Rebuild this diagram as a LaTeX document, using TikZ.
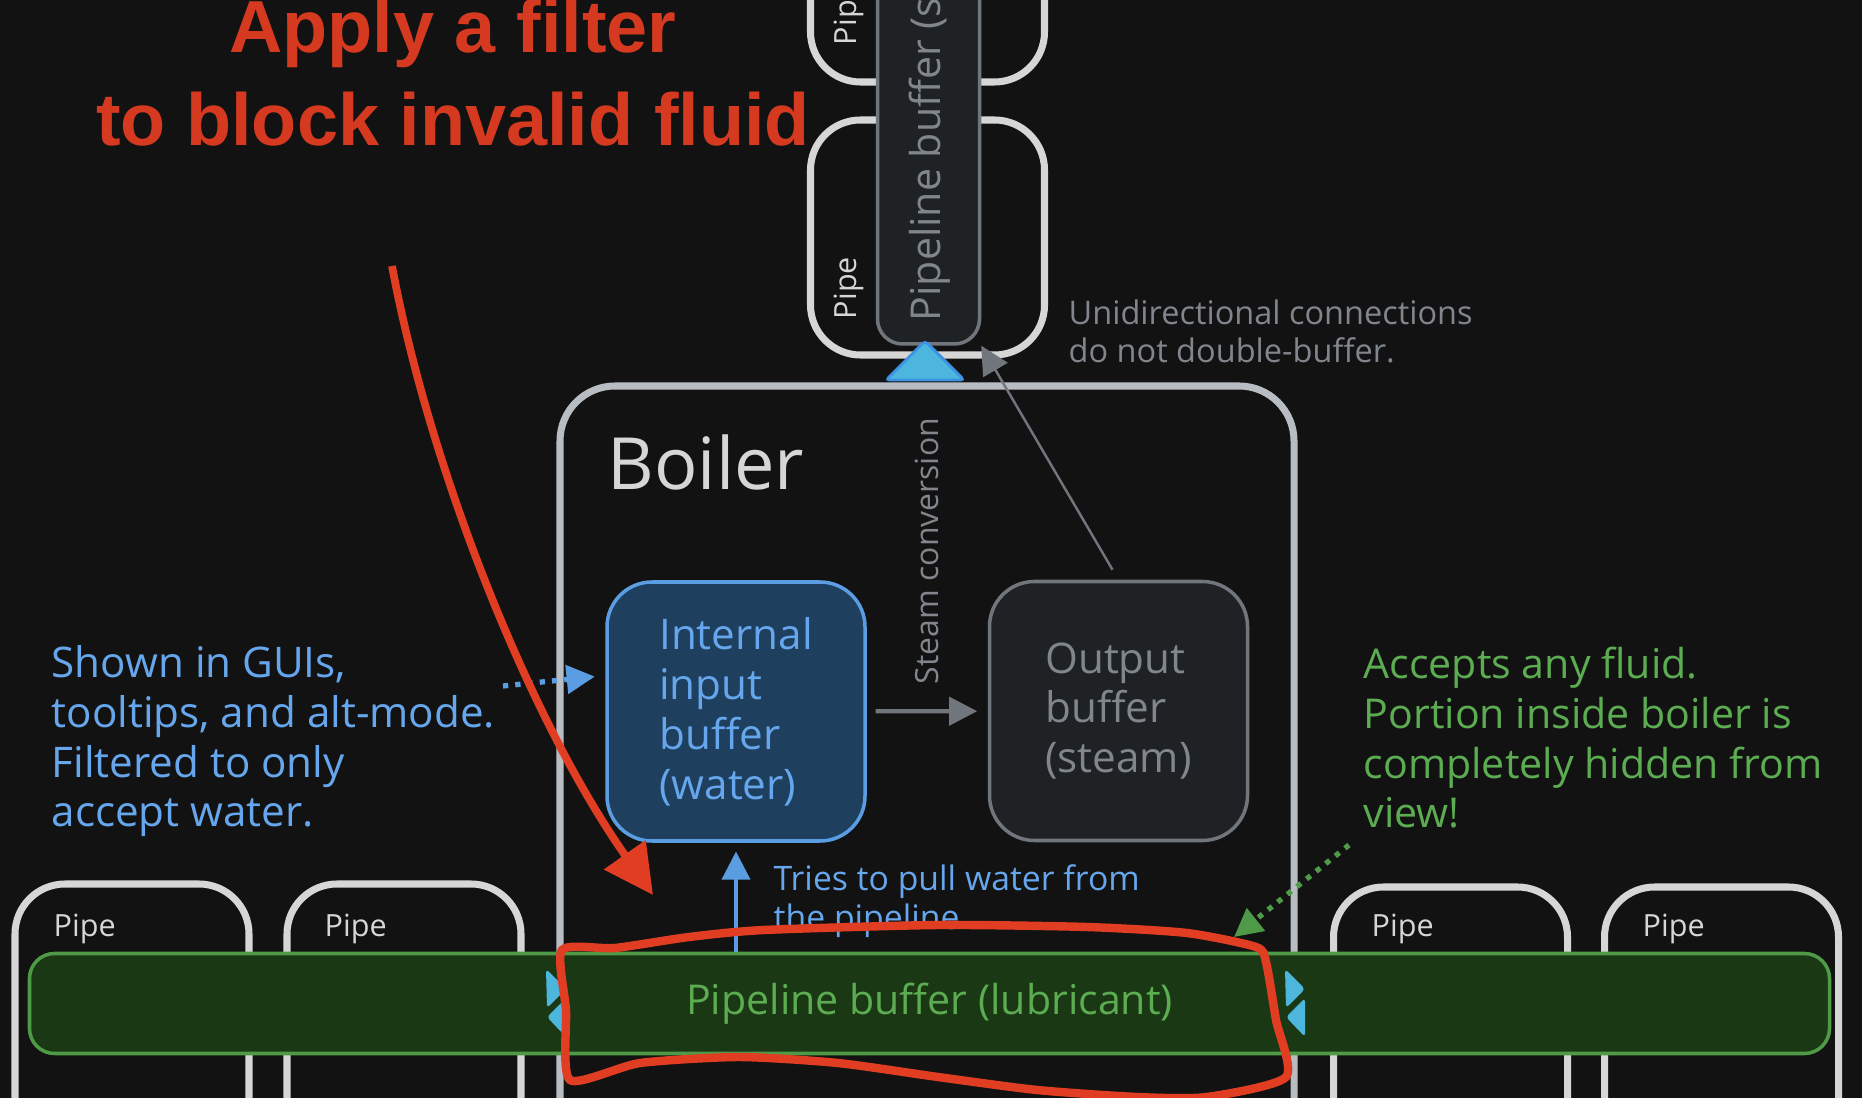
\documentclass[tikz,border=0pt]{standalone}
\usepackage{fontspec}
\setmainfont{Open Sans}
\newfontfamily\titlefont{Liberation Sans}
\usetikzlibrary{arrows.meta,positioning}

\definecolor{bg}{HTML}{121212}
\definecolor{pipegrey}{HTML}{D6D6D6}
\definecolor{wallgrey}{HTML}{B8BDC4}
\definecolor{lube}{HTML}{1B3815}
\definecolor{lubeline}{HTML}{4E9A47}
\definecolor{lubetext}{HTML}{5CAC52}
\definecolor{water}{HTML}{1F3F5E}
\definecolor{waterline}{HTML}{5A9DE2}
\definecolor{watertext}{HTML}{66A6EC}
\definecolor{steam}{HTML}{1F2225}
\definecolor{steamline}{HTML}{70767C}
\definecolor{steamtext}{HTML}{80868C}
\definecolor{markred}{HTML}{E03D22}
\definecolor{link}{HTML}{4DB6DC}

\newcommand\notefont{\fontsize{12}{14.2}\selectfont}
\newcommand\smallnotefont{\fontsize{9.6}{11.2}\selectfont}
\newcommand\pipefont{\fontsize{8.7}{10}\selectfont}
\newcommand\busfont{\fontsize{11.7}{14}\selectfont}

\begin{document}
\begin{tikzpicture}[>={Triangle[length=8pt,width=8pt]},
  pipe/.style={draw=pipegrey,line width=2pt,rounded corners=0.5cm,minimum width=2.34cm,inner sep=0pt},
  pipelbl/.style={text=pipegrey,font=\pipefont,inner sep=0pt},
  buf/.style={line width=1pt,rounded corners=0.45cm,minimum width=2.58cm,minimum height=2.59cm,align=left,font=\notefont},
  note/.style={align=left,font=\notefont,inner sep=0pt,anchor=base west},
  smallnote/.style={align=left,font=\smallnotefont,inner sep=0pt,anchor=base west}]
\useasboundingbox (0,0) rectangle (18.62,-10.98);
\clip (0,0) rectangle (18.62,-10.98);
\fill[bg] (0,0) rectangle (18.62,-10.98);

\node[text=markred!95!black,font=\titlefont\bfseries\fontsize{21}{26.5}\selectfont,align=center,anchor=base,inner sep=0pt] (title) at (4.53,-1.46) {Apply a filter\\to block invalid fluid};

% pipes above the boiler
\node[pipe,minimum height=2.4cm] (pipeA) at (9.275,0.38) {};
\node[pipe,minimum height=2.35cm] (pipeB) at (9.275,-2.375) {};
\node[pipelbl,rotate=90] at (8.49,-0.14) {Pipe};
\node[pipelbl,rotate=90] at (8.49,-2.88) {Pipe};
\node[draw=steamline,fill=steam,line width=1pt,rounded corners=0.25cm,minimum width=1.02cm,minimum height=4.44cm] (vbuf) at (9.285,-1.22) {};
\node[text=steamtext,font=\busfont,rotate=90,anchor=west,inner sep=0pt] at (9.30,-3.22) {Pipeline buffer (steam)};
\node[smallnote,text=steamtext,font=\fontsize{9.25}{11}\selectfont] (unidir) at (10.68,-3.63) {Unidirectional connections\\do not double-buffer.};

% pipes below
\node[pipe,minimum height=3cm] (pipe1) at (1.32,-10.34) {};
\node[pipe,minimum height=3cm] (pipe2) at (4.04,-10.34) {};
\node[pipe,minimum height=3cm] (pipe3) at (14.505,-10.37) {};
\node[pipe,minimum height=3cm] (pipe4) at (17.215,-10.37) {};
\node[pipelbl,anchor=base west] at (0.53,-9.37) {Pipe};
\node[pipelbl,anchor=base west] at (3.24,-9.37) {Pipe};
\node[pipelbl,anchor=base west] at (13.71,-9.37) {Pipe};
\node[pipelbl,anchor=base west] at (16.42,-9.37) {Pipe};

% the boiler
\node[draw=wallgrey,line width=2pt,rounded corners=0.55cm,minimum width=7.34cm,minimum height=8.64cm] (boiler) at (9.27,-8.18) {};
\node[text=pipegrey,font=\fontsize{20.5}{24}\selectfont,anchor=base west,inner sep=0pt] (name) at (6.07,-4.90) {Boiler};
\node[buf,draw=waterline,fill=water,text=watertext] (inbuf) at (7.36,-7.115) {Internal\\input\\buffer\\(water)};
\node[buf,draw=steamline,fill=steam,text=steamtext] (outbuf) at (11.185,-7.11) {Output\\buffer\\(steam)};
\node[text=steamtext,font=\fontsize{9.1}{11}\selectfont,rotate=90,inner sep=0pt] (conv) at (9.27,-5.51) {Steam conversion};
\draw[->,steamline,line width=1.2pt,shorten <=2.5pt,shorten >=3pt] (inbuf) -- (outbuf);
\draw[->,steamline,line width=0.7pt] ([xshift=-0.6mm,yshift=1mm]outbuf.north) -- (vbuf.south east);
\filldraw[fill=link,draw=link!80!blue,line width=0.8pt,rounded corners=1pt] (8.86,-3.80) -- (9.25,-3.41) -- (9.64,-3.80) -- cycle;

% pipeline buffer
\node[draw=lubeline,fill=lube,text=lubetext,font=\busfont,line width=1pt,rounded corners=0.25cm,minimum width=18cm,minimum height=1cm] (bar) at (9.295,-10.035) {Pipeline buffer (lubricant)};
\fill[link,rounded corners=1pt] (5.46,-9.69) -- (5.66,-9.89) -- (5.47,-10.08) -- cycle;
\fill[link,rounded corners=1pt] (5.66,-9.98) -- (5.47,-10.17) -- (5.66,-10.37) -- cycle;
\fill[link,rounded corners=1pt] (12.85,-9.69) -- (13.05,-9.89) -- (12.86,-10.08) -- cycle;
\fill[link,rounded corners=1pt] (13.05,-9.98) -- (12.86,-10.17) -- (13.05,-10.37) -- cycle;

% notes
\node[note,text=watertext] (gui) at (0.51,-8.27) {Shown in GUIs,\\tooltips, and alt-mode.\\Filtered to only\\accept water.};
\node[note,text=lubetext,font=\fontsize{11.7}{14.2}\selectfont] (anyfluid) at (13.63,-8.28) {Accepts any fluid.\\Portion inside boiler is\\completely hidden from\\view!};
\node[smallnote,text=watertext] (pull) at (7.73,-9.30) {Tries to pull water from\\the pipeline};
\coordinate (guiend) at (5.03,-6.86);
\coordinate (viewend) at (13.49,-8.45);
\coordinate (hidden) at (12.34,-9.37);
\draw[->,waterline,line width=1.5pt,dotted,shorten >=3pt] (guiend) -- ([yshift=3.6mm]inbuf.west);
\draw[->,lubeline,line width=1.5pt,dotted] (viewend) -- (hidden);
\draw[->,waterline,line width=1pt,shorten >=2.5pt] (inbuf.south |- bar.north) -- (inbuf.south);

% red markup
\coordinate (filt) at (3.92,-2.66);
\coordinate (gate) at (6.53,-8.95);
\draw[markred,line width=2.2pt,-{Triangle[length=14pt,width=14pt]}] (filt) .. controls (4.30,-4.70) and (5.30,-7.20) .. (gate);
\draw[markred,line width=2.4pt] plot[smooth cycle,tension=0.4] coordinates {(5.62,-9.50) (6.15,-9.48) (6.89,-9.37) (7.64,-9.30) (9.38,-9.25) (10.87,-9.27) (11.87,-9.33) (12.56,-9.47) (12.66,-9.62) (12.76,-10.20) (12.86,-10.77) (12.07,-10.97) (11.37,-10.97) (10.37,-10.90) (9.38,-10.77) (8.38,-10.63) (7.39,-10.57) (6.40,-10.63) (5.70,-10.80) (5.66,-10.10)};
\end{tikzpicture}
\end{document}
